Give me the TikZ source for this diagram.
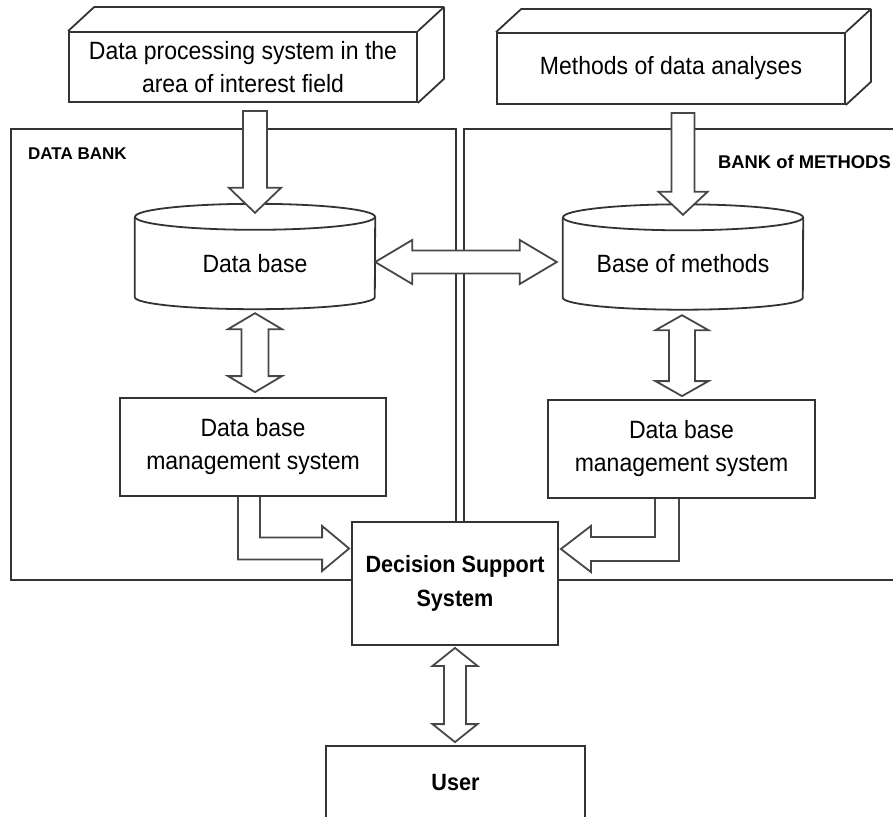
\documentclass[tikz,border=0pt]{standalone}
\usepackage{fontspec}
\setmainfont{Liberation Sans}[FakeStretch=0.92]
\newfontfamily\labfont{Liberation Sans}
\usetikzlibrary{calc}
\tikzset{
 ln/.style={draw=black!80, line width=1.8pt},
 box/.style={ln, fill=white, rectangle, inner sep=0pt, align=center, font=\fontsize{25}{33}\selectfont},
 boldbox/.style={box, font=\bfseries\fontsize{23.5}{34}\selectfont},
 frame/.style={ln, rectangle, inner sep=0pt},
 cyl/.style={rectangle, inner sep=0pt, align=center, font=\fontsize{25}{33}\selectfont},
 blk/.style={draw=black!72, line width=1.8pt, fill=white, line join=miter},
 blkopen/.style={draw=black!72, line width=1.8pt, line join=miter},
 lab/.style={font=\labfont\bfseries\fontsize{17}{20}\selectfont, inner sep=0pt},
}
\newcommand\sdarrow[5]{\draw[blk] let \p1=(#1), \p2=(#2) in (\x1-#3,\y1) -- (\x1+#3,\y1) -- (\x1+#3,\y2+#5) -- (\x1+#4,\y2+#5) -- (\x1,\y2) -- (\x1-#4,\y2+#5) -- (\x1-#3,\y2+#5) -- cycle;}
\newcommand\vdarrow[5]{\draw[blk] let \p1=(#1), \p2=(#2) in (\x1,\y1) -- (\x1+#4,\y1-#5) -- (\x1+#3,\y1-#5) -- (\x1+#3,\y2+#5) -- (\x1+#4,\y2+#5) -- (\x1,\y2) -- (\x1-#4,\y2+#5) -- (\x1-#3,\y2+#5) -- (\x1-#3,\y1-#5) -- (\x1-#4,\y1-#5) -- cycle;}
\newcommand\hdarrow[5]{\draw[blk] let \p1=(#1), \p2=(#2) in (\x1,\y1) -- (\x1+#5,\y1+#4) -- (\x1+#5,\y1+#3) -- (\x2-#5,\y1+#3) -- (\x2-#5,\y1+#4) -- (\x2,\y1) -- (\x2-#5,\y1-#4) -- (\x2-#5,\y1-#3) -- (\x1+#5,\y1-#3) -- (\x1+#5,\y1-#4) -- cycle;}
\newcommand\elbowright[5]{\draw[blkopen] let \p1=(#1), \p2=(#2) in (\x1-#3,\y1) -- (\x1-#3,\y2-#3) -- (\x2-#5,\y2-#3) -- (\x2-#5,\y2-#4) -- (\x2,\y2) -- (\x2-#5,\y2+#4) -- (\x2-#5,\y2+#3) -- (\x1+#3,\y2+#3) -- (\x1+#3,\y1);}
\newcommand\elbowleft[5]{\draw[blkopen] let \p1=(#1), \p2=(#2) in (\x1+#3,\y1) -- (\x1+#3,\y2-#3) -- (\x2+#5,\y2-#3) -- (\x2+#5,\y2-#4) -- (\x2,\y2) -- (\x2+#5,\y2+#4) -- (\x2+#5,\y2+#3) -- (\x1-#3,\y2+#3) -- (\x1-#3,\y1);}
\begin{document}
\begin{tikzpicture}[x=1pt,y=-1pt]
\useasboundingbox (0,0) rectangle (893,816);
\fill[white] (0,0) rectangle (893,816);
\clip (0,0) rectangle (893,816);

% bank frames
\node[frame, minimum width=445, minimum height=451, anchor=north west] (bankL) at (10,128) {};
\node[frame, minimum width=460, minimum height=451, anchor=north west] (bankR) at (463,128) {};
\node[lab, anchor=west] (lblL) at (28,154) {DATA BANK};
\node[lab, anchor=east, font=\labfont\bfseries\fontsize{18.4}{20}\selectfont] (lblR) at (891,162) {BANK of METHODS};

% top prisms
\node[box, minimum width=348, minimum height=70] (tl) at (243,67) {Data processing system in the\\area of interest field};
\draw[ln, line join=round] (tl.north west) -- ++(26pt,24pt) -- ($(tl.north east)+(26pt,24pt)$) -- ($(tl.south east)+(26pt,24pt)$) -- (tl.south east) (tl.north east) -- ++(26pt,24pt);
\node[box, minimum width=348, minimum height=71] (tr) at (671,68.5) {Methods of data analyses};
\draw[ln, line join=round] (tr.north west) -- ++(25pt,23pt) -- ($(tr.north east)+(25pt,23pt)$) -- ($(tr.south east)+(25pt,23pt)$) -- (tr.south east) (tr.north east) -- ++(25pt,23pt);

% cylinders
\node[cyl, minimum width=240, minimum height=67] (db) at (255,263.5) {Data base};
\draw[ln] ($(db.north)+(0,13pt)$) ellipse [x radius=120pt, y radius=13pt];
\draw[ln] ($(db.north west)+(0,13pt)$) -- (db.south west) arc[start angle=180, end angle=360, x radius=120pt, y radius=12pt] -- ($(db.north east)+(0,13pt)$);
\node[cyl, minimum width=240, minimum height=67] (bm) at (683,264) {Base of methods};
\draw[ln] ($(bm.north)+(0,13pt)$) ellipse [x radius=120pt, y radius=13pt];
\draw[ln] ($(bm.north west)+(0,13pt)$) -- (bm.south west) arc[start angle=180, end angle=360, x radius=120pt, y radius=12pt] -- ($(bm.north east)+(0,13pt)$);

% DBMS boxes
\node[box, minimum width=266, minimum height=98] (dbms) at (253,447) {Data base\\management system};
\node[box, minimum width=267, minimum height=98] (rdbms) at (681.5,449) {Data base\\management system};

% DSS and user
\node[boldbox, minimum width=206, minimum height=123] (dss) at (455,583.5) {Decision Support\\System};
\node[boldbox, minimum width=259, minimum height=74] (user) at (455.5,783) {User};

% arrows
\sdarrow{$(tl.south)+(12pt,-8pt)$}{$(db.north)+(0,17pt)$}{12pt}{26pt}{25pt}
\sdarrow{$(tr.south)+(12pt,-8pt)$}{$(bm.north)+(0,15.5pt)$}{11.5pt}{24.5pt}{23pt}
\hdarrow{$(db.east)+(0,1.5pt)$}{$(bm.west)+(-6pt,0)$}{11.5pt}{22pt}{37pt}
\vdarrow{$(db.south)+(0,-16pt)$}{$(dbms.north)+(1pt,5pt)$}{13.5pt}{27pt}{16pt}
\vdarrow{$(bm.south)+(-1pt,-17.5pt)$}{$(rdbms.north)+(0,3pt)$}{13pt}{26.5pt}{15pt}
\vdarrow{$(dss.south)+(0,-2pt)$}{$(user.north)+(0,3pt)$}{11pt}{22.5pt}{18pt}
\elbowright{$(dbms.south)+(-4pt,0)$}{$(dss.west)+(-2pt,35pt)$}{11pt}{22.5pt}{27pt}
\elbowleft{$(rdbms.south)+(-14.5pt,0)$}{$(dss.east)+(2pt,34.5pt)$}{12pt}{23pt}{30pt}
\end{tikzpicture}
\end{document}
